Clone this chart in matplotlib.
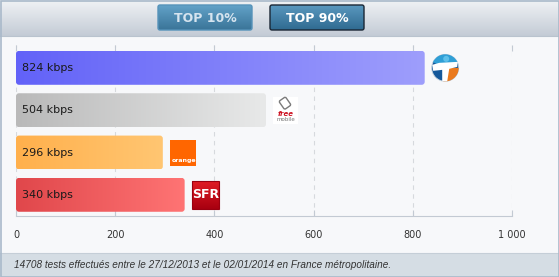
import numpy as np
import matplotlib.pyplot as plt
from matplotlib.patches import FancyBboxPatch, Rectangle, Circle, Wedge, Polygon
from matplotlib.colors import to_rgb

# data
operators = ["Bouygues Telecom", "Free Mobile", "Orange", "SFR"]
speeds = [824, 504, 296, 340]
bar_labels = ["824 kbps", "504 kbps", "296 kbps", "340 kbps"]
xticks = [0, 200, 400, 600, 800, 1000]
xtick_labels = ["0", "200", "400", "600", "800", "1 000"]
buttons = ["TOP 10%", "TOP 90%"]
footer = "14708 tests effectués entre le 27/12/2013 et le 02/01/2014 en France métropolitaine."

bar_colors = [("#6262f8", "#9e9efc"), ("#b9b9b9", "#e8e9e9"),
              ("#ffb04c", "#ffc672"), ("#e0474b", "#ff7474")]

W, H = 559, 277


def gradient(c0, c1, vertical=False, n=256):
    a, b = np.array(to_rgb(c0)), np.array(to_rgb(c1))
    t = np.linspace(0, 1, n)[:, None]
    g = a + (b - a) * t
    return g[:, None, :] if vertical else g[None, :, :]


fig = plt.figure(figsize=(W / 100, H / 100), dpi=100)
fig.patch.set_facecolor("#f7f8fa")

# background layer in pixel coords (y down)
bg = fig.add_axes([0, 0, 1, 1], zorder=0)
bg.axis("off")
bg.imshow(gradient("#f0f2f5", "#c3cbd5", vertical=True), extent=(0, W, 36, 0), aspect="auto")
bg.plot([0, W], [36, 36], color="#b9c3ce", lw=0.8)

btn_x = [158, 270]
btn_style = [("#62a2c8", "#3a7498", "#5693ba", "#d6e4ef"),
             ("#5a98bf", "#2f6a90", "#1a2634", "white")]
for lbl, x0, (top, bot, edge, tc) in zip(buttons, btn_x, btn_style):
    box = FancyBboxPatch((x0, 5), 94, 25, boxstyle="round,pad=0,rounding_size=2",
                         fc="none", ec=edge, lw=1, zorder=3)
    bg.add_patch(box)
    im = bg.imshow(gradient(top, bot, vertical=True), extent=(x0, x0 + 94, 30, 5),
                   aspect="auto", zorder=2)
    im.set_clip_path(box)
    bg.text(x0 + 47, 18, lbl, ha="center", va="center", fontsize=9,
            fontweight="bold", color=tc, zorder=4)

bg.add_patch(Rectangle((0, 253), W, 24, fc="#d5dde4", ec="none"))
bg.plot([0, W], [253, 253], color="#c5ced7", lw=0.8)
bg.text(14, 265, footer, ha="left", va="center", fontsize=7.2, style="italic",
        color="#333333", family="Liberation Sans")
bg.set_xlim(0, W)
bg.set_ylim(H, 0)

# main chart
ax = fig.add_axes([16 / W, 1 - 216 / H, 496 / W, 171 / H], zorder=1)
ax.set_facecolor("none")
ypos = np.arange(len(operators))
bars = ax.barh(ypos, speeds, height=0.8, color="none")
for bar, (c0, c1), lbl, y in zip(bars, bar_colors, bar_labels, ypos):
    x, yb, w, h = bar.get_x(), bar.get_y(), bar.get_width(), bar.get_height()
    patch = FancyBboxPatch((x, yb), w, h, boxstyle="round,pad=0,rounding_size=6",
                           mutation_aspect=0.0118, fc="none", ec="none")
    ax.add_patch(patch)
    im = ax.imshow(gradient(c0, c1), extent=(x, x + w, yb + h, yb), aspect="auto", zorder=2)
    im.set_clip_path(patch)
    ax.text(12, y, lbl, va="center", ha="left", fontsize=8, color="#1a1a1a", zorder=3)

ax.set_xlim(0, 1000)
ax.set_ylim(3.5, -0.54)
ax.set_xticks(xticks, xtick_labels)
ax.set_yticks([])
ax.grid(axis="x", linestyle=(0, (4, 4)), color="#d6d9dd", lw=0.8)
ax.set_axisbelow(True)
for s in ["top", "left", "right"]:
    ax.spines[s].set_visible(False)
ax.spines["bottom"].set_color("#c3cad3")
ax.tick_params(axis="x", direction="in", length=4, color="#c3cad3", labelsize=7,
               labelcolor="#333333", pad=10, top=True)

# logo overlay
ov = fig.add_axes([0, 0, 1, 1], zorder=2)
ov.axis("off")
ov.set_facecolor("none")
ov.set_xlim(0, W)
ov.set_ylim(H, 0)

anchors = []
for v, y in zip(speeds, ypos):
    xd, yd = ax.transData.transform((v, y))
    anchors.append((xd + 7, H - yd))

# Bouygues
x, yc = anchors[0]
r = 13.5
cx = x + r
ov.add_patch(Circle((cx, yc), r, fc="#15589a", ec="#c8d4de", lw=0.6))
ov.add_patch(Wedge((cx, yc), r, 205, 335, fc="#2f9fd6", ec="none"))
ov.add_patch(Wedge((cx, yc), r, 0, 100, fc="#ea7a1e", ec="none"))
ov.add_patch(Polygon([(cx - 13, yc - 3), (cx - 6, yc - 5), (cx + 12.5, yc - 6),
                      (cx + 12, yc - 1), (cx + 4, yc + 1), (cx + 2, yc + 13.5),
                      (cx - 3, yc + 13.5), (cx - 3, yc + 2), (cx - 12, yc + 3)],
                     closed=True, fc="white", ec="none"))
ov.add_patch(Circle((cx + 1, yc - 9), 3, fc="#5ec0ea", ec="none"))

# Free mobile
x, yc = anchors[1]
ov.add_patch(Rectangle((x, yc - 13), 25, 27, fc="white", ec="none"))
ov.add_patch(FancyBboxPatch((x + 8, yc - 12), 8, 10, boxstyle="round,pad=0,rounding_size=1.5",
                            fc="none", ec="#7a7a7a", lw=1,
                            transform=plt.matplotlib.transforms.Affine2D().rotate_deg_around(
                                x + 12, yc - 7, -35) + ov.transData))
ov.text(x + 12.5, yc + 4, "free", ha="center", va="center", fontsize=5,
        style="italic", fontweight="bold", color="#cc1020")
ov.text(x + 12.5, yc + 9.5, "mobile", ha="center", va="center", fontsize=4, color="#777777")

# Orange
x, yc = anchors[2]
ov.add_patch(Rectangle((x, yc - 13), 26, 26, fc="#ff6600", ec="none"))
ov.text(x + 2, yc + 8, "orange", ha="left", va="center", fontsize=4.5,
        fontweight="bold", color="white")

# SFR
x, yc = anchors[3]
box = Rectangle((x, yc - 14), 27, 28, fc="none", ec="#9a0010", lw=0.8, zorder=3)
ov.add_patch(box)
im = ov.imshow(gradient("#e01c24", "#a80010", vertical=True), extent=(x, x + 27, yc + 14, yc - 14),
               aspect="auto", zorder=2)
im.set_clip_path(box)
ov.text(x + 14, yc, "SFR", ha="center", va="center", fontsize=9, fontweight="bold",
        color="white", zorder=4)

ov.add_patch(Rectangle((0.5, 0.5), W - 1, H - 1, fill=False, ec="#a9b9ca", lw=1.2))
ov.set_xlim(0, W)
ov.set_ylim(H, 0)

fig.savefig("out.png", dpi=100, facecolor=fig.get_facecolor())
